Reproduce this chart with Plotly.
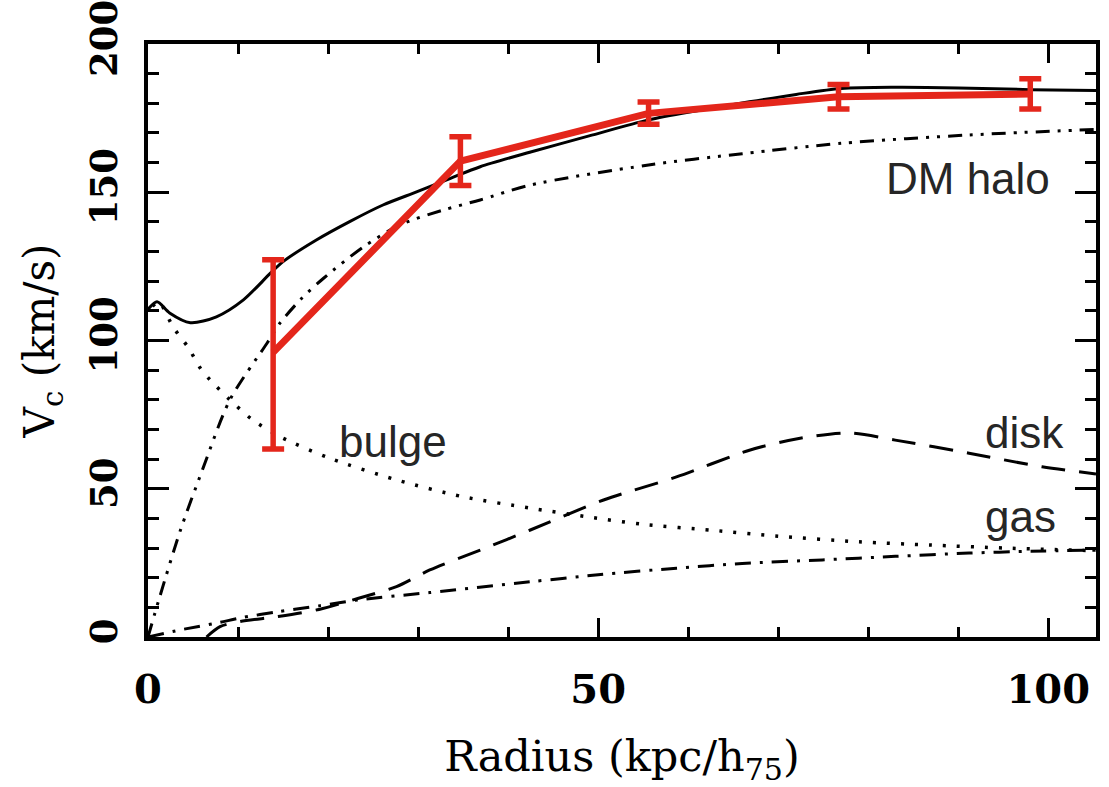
import plotly.graph_objects as go

# ---- data ----
total_x = [0, 1.0, 2.4, 4.7, 7.6, 10.6, 13.6, 15.0, 18.7, 22.4, 26.1, 29.9, 33.6, 36.9, 42.4, 49.0, 55.6, 61.0, 66.8, 72.0, 77.0, 83.0, 90.0, 98.0, 105.3]
total_y = [110.5, 113.1, 109.3, 106.0, 108.0, 113.7, 122.7, 126.6, 133.9, 140.1, 145.7, 150.2, 154.7, 158.6, 163.5, 169.0, 174.4, 177.5, 180.5, 183.0, 185.0, 185.4, 185.2, 184.6, 184.3]

halo_x = [0, 1.3, 3.6, 6.0, 9.1, 13.2, 14.7, 17.0, 19.5, 23.9, 28.0, 32.8, 36.9, 42.4, 55.6, 66.0, 77.0, 91.1, 105.3]
halo_y = [0, 13.5, 36.0, 56.0, 80.0, 99.0, 106.0, 114.0, 121.0, 131.5, 139.0, 144.0, 147.4, 152.4, 159.2, 163.0, 166.5, 169.3, 171.2]

bulge_x = [0.5, 1.2, 2.8, 4.5, 5.8, 6.9, 9.1, 11.5, 14.7, 20.2, 27.6, 35.0, 42.4, 48.9, 55.0, 62.7, 70.0, 79.0, 87.0, 95.2, 105.3]
bulge_y = [111.5, 113.0, 104.5, 97.5, 90.7, 86.7, 80.0, 73.5, 67.5, 60.3, 53.0, 47.3, 43.5, 40.5, 38.0, 36.0, 34.0, 32.1, 31.0, 30.0, 29.1]

disk_x = [6.5, 8.0, 10.2, 14.4, 19.0, 23.3, 27.6, 31.3, 36.9, 42.4, 50.6, 58.7, 66.8, 72.0, 77.8, 83.0, 91.2, 99.3, 105.3]
disk_y = [0, 3.5, 5.2, 6.9, 9.3, 13.0, 17.0, 22.6, 29.3, 36.0, 46.2, 54.0, 63.0, 66.8, 68.8, 66.4, 62.0, 57.4, 55.0]

gas_x = [0, 3.6, 7.8, 10.2, 14.4, 19.0, 23.3, 31.3, 42.4, 50.0, 58.7, 66.0, 74.9, 83.0, 91.2, 98.0, 105.3]
gas_y = [0, 2.4, 4.8, 6.4, 8.5, 10.5, 12.5, 15.0, 18.6, 21.0, 23.2, 24.8, 26.0, 27.2, 28.3, 28.9, 29.3]

obs_x = [13.9, 34.7, 55.6, 76.7, 98.0]
obs_y = [96.0, 160.5, 176.6, 182.2, 183.1]
obs_err_plus = [31.2, 8.2, 3.8, 4.1, 5.2]
obs_err_minus = [32.6, 8.2, 3.7, 4.1, 5.0]

labels = ["DM halo", "bulge", "disk", "gas"]
label_x = [81.8, 21.0, 92.7, 92.7]
label_y = [154.8, 65.8, 69.1, 40.5]

x_ticks = [0, 50, 100]
y_ticks = [0, 50, 100, 150, 200]

RED = "#e4261b"
fig = go.Figure()

def curve(x, y, dash, width=3):
    fig.add_trace(go.Scatter(x=x, y=y, mode="lines",
                             line=dict(color="black", width=width, dash=dash,
                                       shape="spline", smoothing=0.8),
                             showlegend=False, hoverinfo="skip"))

curve(halo_x, halo_y, "14px,8px,3px,8px,3px,8px")
curve(bulge_x, bulge_y, "3px,11px", width=3.5)
curve(disk_x, disk_y, "24px,14px")
curve(gas_x, gas_y, "16px,9px,3px,9px")
curve(total_x, total_y, "solid", width=3)

fig.add_trace(go.Scatter(
    x=obs_x, y=obs_y, mode="lines",
    line=dict(color=RED, width=7),
    error_y=dict(type="data", symmetric=False, array=obs_err_plus,
                 arrayminus=obs_err_minus, color=RED, thickness=5.5, width=11),
    showlegend=False, hoverinfo="skip"))

for t, x, y in zip(labels, label_x, label_y):
    fig.add_annotation(x=x, y=y, text=t, showarrow=False, xanchor="left",
                       yanchor="middle",
                       font=dict(family="Liberation Sans", size=44, color="#262626"))

axis_common = dict(showline=True, linecolor="black", linewidth=3.5, mirror="allticks",
                   ticks="inside", tickcolor="black", tickwidth=3,
                   showgrid=False, zeroline=False, automargin=False)

fig.update_xaxes(range=[0, 105.3], tickvals=x_ticks, ticklen=19,
                 minor=dict(dtick=10, ticks="inside", ticklen=10, tickwidth=3, tickcolor="black", showgrid=False),
                 tickfont=dict(family="DejaVu Serif", size=40, color="black", weight="bold"),
                 ticklabelstandoff=14,
                 title=dict(text="Radius (kpc/h<sub>75</sub>)", standoff=40,
                            font=dict(family="DejaVu Serif", size=43, color="black")),
                 **axis_common)
fig.update_yaxes(range=[0, 200.001], tickvals=y_ticks, ticklen=21, tickangle=-90,
                 minor=dict(dtick=10, ticks="inside", ticklen=11, tickwidth=3, tickcolor="black", showgrid=False),
                 tickfont=dict(family="DejaVu Serif", size=37, color="black", weight="bold"),
                 ticklabelstandoff=12, ticklabeloverflow="allow",
                 title=dict(text="V<sub>c</sub> (km/s)", standoff=16,
                            font=dict(family="DejaVu Serif", size=42, color="black")),
                 **axis_common)

fig.update_layout(width=1109, height=787, plot_bgcolor="white", paper_bgcolor="white",
                  margin=dict(l=148, r=13, t=44, b=150))

fig.write_html("out.html")
